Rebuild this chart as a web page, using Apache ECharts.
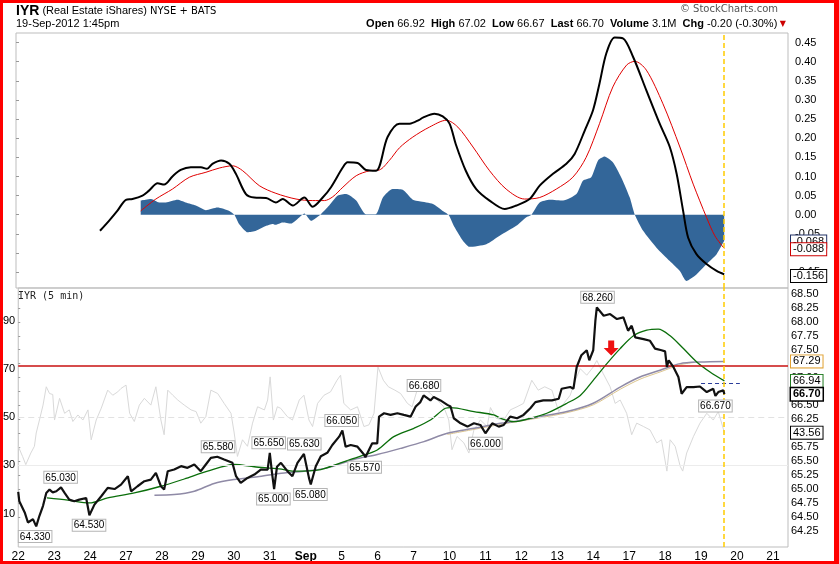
<!DOCTYPE html>
<html><head><meta charset="utf-8">
<script src="https://cdn.jsdelivr.net/npm/echarts@6.0.0/dist/echarts.min.js"></script>
<style>
html,body{margin:0;padding:0;background:#fff}
#wrap{position:relative;width:839px;height:564px}
#c{width:839px;height:564px}
#f{position:absolute;left:0;top:0;width:839px;height:564px;box-sizing:border-box;border:3px solid #f00;border-right-width:5px;pointer-events:none}
</style></head>
<body><div id="wrap"><div id="c"></div><div id="f"></div></div>
<script>
// ---------- tick labels / categories ----------
const dayLabels = ['22','23','24','27','28','29','30','31','Sep','5','6','7','10','11','12','13','14','17','18','19','20','21'];
const xTicks = dayLabels.map((_, i) => i);
const macdTicks = [-0.15,-0.10,-0.05,0.00,0.05,0.10,0.15,0.20,0.25,0.30,0.35,0.40,0.45];
const priceTicks = [64.25,64.50,64.75,65.00,65.25,65.50,65.75,66.00,66.25,66.50,66.75,67.00,67.25,67.50,67.75,68.00,68.25,68.50];
const rsiTicks = [10,30,50,70,90];
const headerLabels = ['Open','High','Low','Last','Volume','Chg'];
const headerValues = ['66.92','67.02','66.67','66.70','3.1M','-0.20 (-0.30%)'];

// ---------- upper panel (trading-day index, value) ----------
const macdDay = [2.33,2.58,2.81,3.05,3.23,3.51,3.69,3.93,4.11,4.34,4.57,4.85,5.13,5.30,5.45,5.69,5.92,6.10,6.38,6.61,6.94,7.21,7.40,7.68,8.00,8.23,8.51,8.74,9.07,9.20,9.48,9.71,9.99,10.31,10.64,10.92,11.19,11.29,11.61,11.84,12.03,12.20,12.48,12.77,13.14,13.56,13.88,14.25,14.53,14.90,15.27,15.50,15.78,16.01,16.19,16.38,16.61,16.84,17.12,17.49,17.86,18.14,18.33,18.51,18.65,18.88,19.16,19.44,19.65];
const macdVal = [-0.042,-0.016,0.010,0.039,0.041,0.050,0.063,0.082,0.079,0.100,0.117,0.124,0.124,0.120,0.133,0.142,0.133,0.107,0.054,0.045,0.044,0.032,0.041,0.024,0.045,0.021,0.045,0.072,0.124,0.137,0.135,0.117,0.115,0.203,0.238,0.238,0.248,0.254,0.264,0.257,0.238,0.185,0.115,0.067,0.037,0.015,0.024,0.041,0.076,0.107,0.133,0.159,0.220,0.273,0.343,0.422,0.463,0.461,0.413,0.325,0.238,0.177,0.107,0.010,-0.060,-0.103,-0.129,-0.147,-0.156];
const sigDay = [3.46,3.88,4.34,4.81,5.27,5.64,6.01,6.29,6.75,7.21,7.77,8.23,8.56,8.79,9.07,9.44,9.81,10.08,10.36,10.64,11.01,11.47,11.94,12.26,12.68,13.14,13.60,14.11,14.53,14.99,15.45,15.82,16.19,16.56,16.94,17.17,17.49,17.95,18.42,18.79,19.16,19.39,19.65];
const sigVal = [0.010,0.041,0.067,0.098,0.111,0.122,0.128,0.115,0.076,0.056,0.041,0.037,0.037,0.047,0.072,0.102,0.115,0.117,0.142,0.175,0.203,0.229,0.247,0.229,0.177,0.115,0.067,0.041,0.045,0.067,0.098,0.150,0.238,0.334,0.391,0.401,0.378,0.290,0.177,0.080,-0.007,-0.055,-0.088];
const histDay = [3.46,3.60,3.75,3.97,4.16,4.48,4.71,4.99,5.27,5.59,5.92,6.06,6.19,6.43,6.66,6.94,7.12,7.20,7.40,7.63,7.86,8.00,8.19,8.44,8.69,8.93,9.16,9.44,9.71,9.99,10.18,10.45,10.73,11.01,11.19,11.57,11.84,12.00,12.17,12.40,12.58,13.05,13.42,13.88,14.15,14.30,14.53,14.81,15.18,15.55,15.73,15.96,16.15,16.33,16.56,16.79,17.03,17.17,17.40,17.77,18.14,18.42,18.60,18.88,19.16,19.44,19.65];
const histVal = [0.037,0.039,0.041,0.032,0.032,0.039,0.032,0.024,0.012,0.019,0.010,0.000,-0.024,-0.046,-0.042,-0.029,-0.024,-0.026,-0.020,-0.023,-0.007,0.003,-0.016,0.000,0.024,0.050,0.054,0.037,0.001,0.002,0.045,0.067,0.065,0.039,0.035,0.028,0.010,0.000,-0.033,-0.068,-0.084,-0.077,-0.055,-0.029,-0.007,0.000,0.032,0.039,0.037,0.054,0.089,0.098,0.142,0.152,0.137,0.098,0.045,0.000,-0.042,-0.086,-0.121,-0.147,-0.173,-0.156,-0.129,-0.103,-0.068];

// ---------- lower panel ----------
const priceDay = [0.00,0.03,0.18,0.27,0.41,0.50,0.59,0.69,0.78,0.87,0.96,1.06,1.19,1.29,1.42,1.56,1.70,1.89,1.98,2.12,2.31,2.49,2.68,2.86,3.05,3.14,3.32,3.51,3.69,3.83,3.97,4.06,4.16,4.34,4.53,4.71,4.90,5.08,5.22,5.36,5.54,5.73,5.96,6.06,6.19,6.38,6.57,6.75,6.94,7.00,7.06,7.12,7.20,7.31,7.49,7.63,7.77,7.95,8.09,8.14,8.28,8.42,8.60,8.74,8.93,9.02,9.11,9.25,9.44,9.62,9.66,9.85,9.99,10.04,10.18,10.36,10.55,10.73,10.92,11.06,11.19,11.28,11.47,11.56,11.75,11.94,12.03,12.12,12.31,12.50,12.68,12.86,13.00,13.19,13.37,13.51,13.69,13.88,14.06,14.25,14.39,14.61,14.85,15.04,15.12,15.36,15.45,15.54,15.67,15.82,15.89,16.00,16.06,16.10,16.29,16.47,16.66,16.84,16.97,17.07,17.17,17.40,17.58,17.72,17.90,18.00,18.05,18.10,18.14,18.23,18.37,18.46,18.60,18.79,18.97,19.16,19.34,19.40,19.48,19.62,19.65];
const priceVal = [64.95,64.78,64.58,64.40,64.46,64.33,64.52,64.70,64.93,64.99,64.94,64.96,65.03,64.93,64.81,64.78,64.81,64.84,64.53,64.72,64.87,65.02,65.00,65.08,65.23,64.96,65.05,65.14,65.17,65.29,65.05,64.99,65.32,65.35,65.41,65.38,65.44,65.32,65.44,65.56,65.58,65.53,65.47,65.23,65.11,65.20,65.26,65.35,65.35,65.65,65.30,65.00,65.40,65.47,65.32,65.23,65.47,65.63,65.20,65.08,65.41,65.59,65.65,65.79,65.94,66.05,65.76,65.79,65.76,65.62,65.57,65.82,65.82,66.30,66.36,66.33,66.36,66.33,66.30,66.48,66.56,66.68,66.59,66.65,66.59,66.51,66.48,66.27,66.18,66.12,66.18,66.15,66.00,66.18,66.12,66.15,66.30,66.27,66.33,66.45,66.56,66.59,66.59,66.62,66.80,66.83,66.80,67.19,67.40,67.49,67.31,67.49,68.02,68.26,68.11,68.14,68.05,68.08,67.84,67.93,67.72,67.69,67.66,67.52,67.49,67.47,67.19,67.31,67.28,67.19,67.01,66.71,66.83,66.83,66.84,66.74,66.80,66.67,66.74,66.77,66.70];
const greenDay = [0.80,1.38,1.98,2.49,3.23,3.97,4.62,5.27,6.01,6.57,7.26,7.68,8.42,8.97,9.53,9.99,10.45,11.01,11.47,11.89,12.03,12.68,13.23,13.42,13.79,14.25,14.71,15.27,15.64,16.00,16.38,16.75,17.12,17.49,17.81,18.14,18.51,18.88,19.25,19.65];
const greenVal = [64.84,64.80,64.75,64.84,64.93,65.05,65.18,65.32,65.44,65.40,65.36,65.32,65.35,65.47,65.59,65.70,65.94,66.09,66.24,66.45,66.46,66.39,66.33,66.27,66.21,66.27,66.36,66.54,66.68,66.95,67.25,67.52,67.75,67.85,67.87,67.75,67.52,67.28,67.10,66.94];
const purpleDay = [3.79,4.34,4.90,5.45,6.01,6.66,7.26,7.95,8.60,9.34,9.99,10.64,11.29,11.94,12.68,13.42,13.79,14.53,15.27,16.00,16.75,17.30,17.86,18.42,18.97,19.65];
const purpleVal = [64.89,64.90,64.96,65.10,65.17,65.22,65.28,65.32,65.38,65.53,65.62,65.73,65.85,66.00,66.09,66.18,66.21,66.30,66.39,66.54,66.83,67.01,67.13,67.25,67.28,67.29];
const tanDay = [11.94,12.68,13.42,14.53,15.27,16.00,16.75,17.30,17.86,18.42,18.80];
const tanVal = [65.98,66.07,66.16,66.28,66.37,66.51,66.79,66.97,67.10,67.23,67.27];
const rsiDay = [0.00,0.12,0.21,0.35,0.45,0.50,0.59,0.69,0.78,0.87,0.96,1.01,1.15,1.29,1.42,1.52,1.66,1.80,1.94,2.03,2.17,2.31,2.49,2.63,2.77,2.86,3.00,3.10,3.23,3.37,3.51,3.69,3.83,3.97,4.06,4.16,4.30,4.44,4.62,4.81,4.95,5.08,5.22,5.36,5.55,5.73,5.92,6.01,6.10,6.24,6.38,6.52,6.66,6.85,6.94,7.01,7.10,7.21,7.30,7.49,7.63,7.82,7.95,8.09,8.19,8.33,8.51,8.69,8.87,8.97,9.06,9.25,9.44,9.62,9.76,9.90,10.01,10.16,10.30,10.48,10.64,10.83,10.96,11.10,11.29,11.47,11.66,11.84,11.98,12.07,12.21,12.40,12.54,12.68,12.86,13.05,13.14,13.30,13.51,13.69,13.88,14.06,14.29,14.47,14.65,14.85,15.04,15.18,15.36,15.50,15.64,15.82,16.00,16.10,16.28,16.47,16.61,16.75,16.93,17.07,17.21,17.40,17.58,17.77,17.90,18.05,18.14,18.28,18.42,18.49,18.60,18.79,18.97,19.16,19.34,19.48,19.65];
const rsiVal = [37.9,33.7,30.3,35.1,37.9,43.4,48.8,55.0,62.6,59.8,59.4,48.8,57.8,51.6,53.0,48.2,50.9,48.8,53.0,40.6,48.8,53.7,61.2,59.1,60.5,61.9,63.3,51.6,48.2,55.0,57.8,55.0,62.6,48.8,42.7,61.2,59.1,57.1,55.0,53.0,52.3,47.5,50.2,61.2,59.8,55.7,51.6,43.4,33.7,40.6,37.9,47.5,54.3,53.0,57.1,66.7,48.8,54.3,53.7,50.2,48.8,57.1,59.1,48.8,46.1,55.7,59.1,60.5,65.3,67.4,55.7,53.0,54.3,46.1,46.8,51.6,70.8,65.3,62.6,61.2,59.8,55.7,54.3,61.2,61.9,59.8,57.1,54.3,48.8,36.5,42.0,39.3,35.1,44.7,48.8,46.1,54.0,49.5,48.8,53.0,54.3,55.7,65.3,61.2,62.6,61.2,52.3,55.7,59.1,65.3,70.1,67.4,70.8,73.5,68.0,62.6,55.7,57.1,51.6,42.7,47.5,46.1,44.7,39.3,40.6,27.6,40.6,37.9,29.6,27.6,35.1,42.0,47.5,51.6,48.8,52.3,43.56];

// high / low annotations (+1 above, -1 below)
const annDay   = [0.47,1.18,1.97,5.56,6.97,7.10,7.96,8.13,9.00,9.64,11.29,13.00,16.12,19.40];
const annPrice = [64.33,65.03,64.53,65.58,65.65,65.00,65.63,65.08,66.05,65.57,66.68,66.00,68.26,66.67];
const annSide  = [-1,1,-1,1,1,-1,1,-1,1,-1,1,-1,1,-1];
const arrowAt = [16.5, 67.53];
const hLinePrice = 67.21;
const prevLine = [[19.0, 66.89],[20.08, 66.89]];
const lastBar = 19.63;
const X_MAX = 21.42;

const FONT = 'Liberation Sans, Arial, sans-serif';
const zip = (a, b) => a.map((d, i) => [d, b[i]]);
const last = a => a[a.length - 1];

function tag(v, color, digits, bold) {
  return {
    yAxis: v,
    lineStyle: {color: 'rgba(255,255,255,0)', width: 1, type: 'solid'},
    label: {
      show: true, position: 'end', distance: 3,
      formatter: () => v.toFixed(digits),
      color: '#000', fontSize: 11, fontFamily: FONT,
      fontWeight: bold ? 'bold' : 'normal',
      backgroundColor: '#fff', borderColor: color, borderWidth: bold ? 1.5 : 1,
      padding: [1, 2, 0, 2]
    }
  };
}
const vLine = {xAxis: lastBar, lineStyle: {color: '#ffcc00', type: [5, 3], width: 1.5, opacity: 1}, label: {show: false}};
const mlBase = {silent: true, symbol: ['none', 'none'], animation: false};

const chart = echarts.init(document.getElementById('c'), null, {renderer: 'canvas'});
const rich = {
  b: {fontWeight: 'bold', fontSize: 11, fontFamily: FONT, color: '#000'},
  n: {fontWeight: 'normal', fontSize: 11, fontFamily: FONT, color: '#000'},
  t: {fontWeight: 'normal', fontSize: 8, color: '#c00', fontFamily: 'DejaVu Sans'}
};
const headerText = headerLabels.map((l, i) => '{b|' + l + '}{n| ' + headerValues[i] + '}').join('{n|  }') + '{t| ▼}';

chart.setOption({
  animation: false,
  backgroundColor: '#fff',
  title: [
    {left: 16, top: 4, padding: 0, text: '{a|IYR}{n| (Real Estate iShares) }{s|NYSE + BATS}',
      textStyle: {fontWeight: 'normal', rich: {a: {fontWeight: 'bold', fontSize: 14, fontFamily: FONT, color: '#000'}, n: {fontWeight: 'normal', fontSize: 11, fontFamily: FONT, color: '#000'}, s: {fontWeight: 'normal', fontSize: 10, fontFamily: 'DejaVu Sans', color: '#000'}}}},
    {left: 16, top: 18, padding: 0, text: '19-Sep-2012 1:45pm', textStyle: {fontSize: 11, fontWeight: 'normal', fontFamily: FONT, color: '#000'}},
    {right: 53, top: 18, padding: 0, text: headerText, textStyle: {fontWeight: 'normal', rich: rich}},
    {right: 61, top: 4, padding: 0, text: '© StockCharts.com', textStyle: {fontSize: 10, fontWeight: 'normal', fontFamily: 'DejaVu Sans', color: '#555'}},
    {left: 18, top: 291, padding: 0, text: 'IYR (5 min)', textStyle: {fontSize: 10, fontWeight: 'normal', fontFamily: 'DejaVu Sans Mono, monospace', color: '#222'}}
  ],
  grid: [
    {left: 16, right: 51, top: 33, height: 255, show: true, borderColor: '#bdbdbd', borderWidth: 1},
    {left: 16, right: 51, top: 288, height: 259, show: true, borderColor: '#bdbdbd', borderWidth: 1}
  ],
  xAxis: [
    {type: 'value', gridIndex: 0, min: 0, max: X_MAX, axisLabel: {show: false}, axisTick: {show: false}, axisLine: {show: false}, splitLine: {show: false}},
    {type: 'value', gridIndex: 1, min: 0, max: X_MAX, axisLine: {show: false}, axisTick: {show: false}, splitLine: {show: false},
      axisLabel: {customValues: xTicks, margin: 4, fontSize: 12, fontFamily: FONT, color: '#000',
        formatter: v => { const i = Math.round(v); if (Math.abs(v - i) > 1e-6 || !dayLabels[i]) return ''; return dayLabels[i] === 'Sep' ? '{b|Sep}' : dayLabels[i]; },
        rich: {b: {fontWeight: 'bold', fontSize: 12, fontFamily: FONT, color: '#000'}}}}
  ],
  yAxis: [
    {type: 'value', gridIndex: 0, position: 'right', min: -0.1915, max: 0.475, splitLine: {show: false}, axisLine: {show: false},
      axisTick: {show: true, customValues: macdTicks, length: 3, lineStyle: {color: '#999'}},
      axisLabel: {customValues: macdTicks, margin: 7, fontSize: 11, fontFamily: FONT, color: '#000', formatter: v => v.toFixed(2)}},
    {type: 'value', gridIndex: 1, position: 'right', min: 63.96, max: 68.607, splitLine: {show: false}, axisLine: {show: false},
      axisTick: {show: true, customValues: priceTicks, length: 2, lineStyle: {color: '#999'}},
      axisLabel: {customValues: priceTicks, margin: 3, fontSize: 11, fontFamily: FONT, color: '#000', formatter: v => v.toFixed(2)}},
    {type: 'value', gridIndex: 1, position: 'left', min: -3.9, max: 103.6, splitLine: {show: false}, axisLine: {show: false},
      axisTick: {show: false},
      axisLabel: {customValues: rsiTicks, margin: 3, fontSize: 11, fontFamily: FONT, color: '#000', formatter: v => String(Math.round(v))}}
  ],
  series: [
    // upper panel
    {type: 'line', name: 'Histogram', xAxisIndex: 0, yAxisIndex: 0, data: zip(histDay, histVal), symbol: 'none', smooth: 0.2, clip: false,
      lineStyle: {width: 0, opacity: 0}, areaStyle: {color: '#336699', opacity: 1}, z: 1,
      markLine: Object.assign({}, mlBase, {data: [tag(last(histVal), '#223366', 3)]})},
    {type: 'line', name: 'Signal', xAxisIndex: 0, yAxisIndex: 0, data: zip(sigDay, sigVal), symbol: 'none', smooth: 0.3, clip: false,
      lineStyle: {color: '#e00000', width: 1}, z: 3,
      markLine: Object.assign({}, mlBase, {data: [vLine, tag(last(sigVal), '#cc0000', 3)]})},
    {type: 'line', name: 'MACD', xAxisIndex: 0, yAxisIndex: 0, data: zip(macdDay, macdVal), symbol: 'none', smooth: 0.3, clip: false,
      lineStyle: {color: '#000', width: 2}, z: 4,
      markLine: Object.assign({}, mlBase, {data: [tag(last(macdVal), '#000', 3)]})},
    // lower panel
    {type: 'line', name: 'RSI', xAxisIndex: 1, yAxisIndex: 2, data: zip(rsiDay, rsiVal), symbol: 'none', clip: false,
      lineStyle: {color: '#d9d9d9', width: 1}, z: 1,
      markLine: Object.assign({}, mlBase, {data: [
        {yAxis: 50, lineStyle: {color: '#e2e2e2', type: [6, 4], width: 1}, label: {show: false}},
        {yAxis: 30, lineStyle: {color: '#ececec', type: 'solid', width: 1}, label: {show: false}},
        tag(last(rsiVal), '#000', 2)
      ]})},
    {type: 'line', name: 'MA tan', xAxisIndex: 1, yAxisIndex: 1, data: zip(tanDay, tanVal), symbol: 'none', smooth: 0.3,
      lineStyle: {color: '#dcc58e', width: 1}, z: 2},
    {type: 'line', name: 'MA grey', xAxisIndex: 1, yAxisIndex: 1, data: zip(purpleDay, purpleVal), symbol: 'none', smooth: 0.3, clip: false,
      lineStyle: {color: '#8f8aa6', width: 1.5}, z: 3,
      markLine: Object.assign({}, mlBase, {data: [tag(last(purpleVal), '#e0a030', 2)]})},
    {type: 'line', name: 'MA green', xAxisIndex: 1, yAxisIndex: 1, data: zip(greenDay, greenVal), symbol: 'none', smooth: 0.3, clip: false,
      lineStyle: {color: '#0a6e0a', width: 1.3}, z: 4,
      markLine: Object.assign({}, mlBase, {data: [tag(last(greenVal), '#1f7a1f', 2)]})},
    {type: 'line', name: 'IYR', xAxisIndex: 1, yAxisIndex: 1, data: zip(priceDay, priceVal), symbol: 'none', clip: false,
      lineStyle: {color: '#111', width: 2.2}, z: 5,
      markLine: Object.assign({}, mlBase, {data: [
        {yAxis: hLinePrice, lineStyle: {color: '#c81010', width: 1.5, type: 'solid'}, label: {show: false}},
        [{coord: prevLine[0], lineStyle: {color: '#2a3c9a', type: [4, 3], width: 1}, label: {show: false}}, {coord: prevLine[1]}],
        vLine,
        tag(last(priceVal), '#000', 2, true)
      ]}),
      markPoint: {silent: true, animation: false, data: annDay.map((d, i) => ({
        coord: [d, annPrice[i]], value: annPrice[i], symbol: 'rect', symbolSize: 1,
        itemStyle: {color: 'rgba(0,0,0,0)'},
        label: {show: true, position: annSide[i] > 0 ? 'top' : 'bottom', distance: 4,
          formatter: p => Number(p.value).toFixed(3), fontSize: 10, fontFamily: FONT, color: '#000',
          backgroundColor: '#fff', borderColor: '#b5b5b5', borderWidth: 1, padding: [1, 1, 0, 1]}
      })).concat([{
        coord: arrowAt, symbol: 'path://M3,0 L7,0 L7,5 L10,5 L5,10 L0,5 L3,5 Z', symbolSize: [15, 15],
        itemStyle: {color: '#ee1111'}, label: {show: false}
      }])}
    }
  ]
});
</script>
</body></html>
